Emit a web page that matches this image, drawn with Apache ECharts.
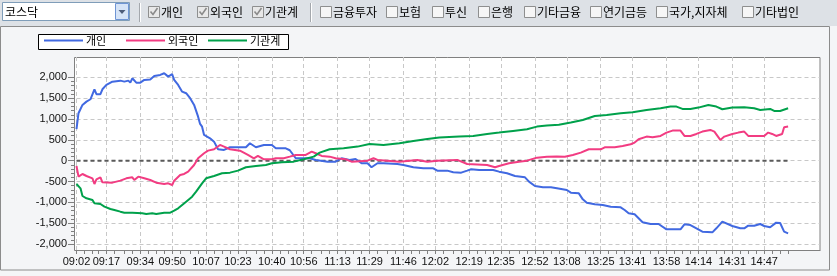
<!DOCTYPE html>
<html><head><meta charset="utf-8">
<script src="https://cdn.jsdelivr.net/npm/echarts@6/dist/echarts.min.js"></script>
<style>html,body{margin:0;padding:0;background:#f4f5f7;}#c{width:837px;height:276px;}</style>
</head><body><div id="c"></div>
<script>
// x positions are minutes after 09:02 (category index)
const tickLabels = ['09:02','09:17','09:34','09:50','10:07','10:23','10:40','10:56','11:13','11:29','11:46','12:02','12:19','12:35','12:52','13:08','13:25','13:41','13:58','14:14','14:31','14:47'];
const seriesNames = ['개인','외국인','기관계'];
const toolbarItems = ['개인','외국인','기관계','금융투자','보험','투신','은행','기타금융','연기금등','국가,지자체','기타법인'];
const toolbarChecked = [true,true,true,false,false,false,false,false,false,false,false];
const marketName = '코스닥';

const individual = [[0,754],[1,1138],[3,1337],[5,1416],[7,1473],[9,1713],[10,1594],[12,1594],[13,1713],[15,1817],[18,1896],[22,1920],[24,1896],[26,1920],[27,1872],[28,1976],[30,1872],[32,1872],[34,1937],[37,1950],[39,2033],[42,2057],[44,2098],[45,2057],[46,2016],[48,2074],[49,1937],[51,1817],[53,1656],[55,1618],[57,1498],[59,1337],[61,1056],[62,881],[63,816],[64,617],[67,537],[69,456],[71,273],[74,257],[77,321],[82,321],[85,321],[87,417],[90,321],[94,377],[98,377],[100,297],[105,297],[107,250],[110,57],[117,57],[120,17],[126,-24],[130,-24],[133,57],[137,17],[140,40],[143,-63],[146,-63],[148,-159],[151,-63],[154,-63],[161,-80],[164,-104],[169,-159],[174,-183],[179,-183],[181,-240],[186,-240],[189,-280],[193,-288],[196,-240],[198,-207],[202,-224],[209,-224],[212,-264],[216,-304],[220,-368],[225,-400],[227,-504],[230,-608],[234,-640],[238,-640],[241,-664],[246,-704],[248,-768],[252,-784],[254,-928],[256,-1008],[260,-1048],[264,-1064],[268,-1104],[273,-1120],[275,-1184],[277,-1264],[280,-1288],[282,-1384],[284,-1480],[288,-1520],[292,-1520],[296,-1648],[303,-1648],[305,-1528],[308,-1545],[311,-1624],[314,-1704],[319,-1720],[321,-1624],[324,-1464],[325,-1480],[329,-1568],[333,-1624],[335,-1624],[337,-1560],[340,-1560],[343,-1520],[345,-1568],[348,-1600],[351,-1488],[353,-1496],[355,-1704],[357,-1744]];
const foreign = [[0,-127],[1,-384],[3,-320],[5,-368],[8,-424],[9,-560],[10,-448],[12,-400],[13,-520],[18,-528],[22,-480],[25,-424],[28,-400],[29,-464],[31,-384],[34,-424],[37,-464],[40,-528],[44,-560],[46,-544],[48,-584],[49,-480],[52,-344],[54,-320],[56,-264],[59,-104],[61,57],[64,177],[66,240],[69,273],[72,377],[74,337],[77,273],[82,240],[86,137],[89,57],[91,113],[94,33],[98,33],[100,57],[104,57],[107,96],[110,137],[115,137],[118,216],[120,177],[123,113],[127,96],[130,57],[135,33],[138,-24],[146,0],[149,57],[151,17],[156,0],[162,-24],[171,17],[176,-24],[181,0],[191,17],[196,-80],[206,-104],[210,-159],[212,-127],[217,-63],[222,-24],[226,0],[231,72],[236,96],[241,97],[245,96],[249,137],[253,192],[257,273],[263,273],[265,321],[270,321],[274,353],[278,393],[280,433],[282,513],[286,577],[289,561],[293,593],[296,673],[299,721],[303,721],[305,593],[308,593],[311,641],[314,697],[318,737],[320,697],[323,497],[325,577],[329,641],[332,673],[335,697],[337,593],[345,593],[347,673],[349,641],[351,593],[354,641],[355,801],[357,817]];
const institution = [[0,-560],[2,-664],[3,-848],[5,-904],[8,-944],[9,-1024],[12,-1040],[14,-1104],[17,-1160],[19,-1184],[22,-1224],[24,-1248],[28,-1248],[33,-1264],[35,-1280],[38,-1264],[40,-1280],[44,-1248],[47,-1248],[49,-1200],[51,-1144],[53,-1064],[55,-984],[58,-864],[60,-744],[63,-544],[65,-424],[69,-368],[73,-304],[77,-288],[81,-240],[85,-159],[90,-127],[95,-104],[98,-63],[103,-40],[109,-24],[114,33],[119,96],[122,192],[127,273],[134,297],[141,337],[147,401],[154,377],[162,417],[169,473],[176,521],[182,553],[192,577],[199,593],[206,641],[212,673],[219,713],[226,753],[231,817],[236,841],[242,860],[248,913],[254,977],[260,1073],[266,1097],[273,1137],[279,1161],[286,1217],[293,1257],[298,1297],[301,1297],[304,1241],[308,1241],[312,1273],[317,1337],[321,1297],[324,1233],[329,1273],[335,1281],[340,1257],[343,1217],[348,1241],[350,1193],[353,1193],[357,1257]];
const baseline = [[0,0],[357,0]];

const startMinute = 9*60+2;
const categoryCount = 374;
const categories = [];
for (let i = 0; i < categoryCount; i++) {
  const m = startMinute + i;
  categories.push(String(Math.floor(m/60)).padStart(2,'0') + ':' + String(m%60).padStart(2,'0'));
}
const labelIdx = tickLabels.map(t => categories.indexOf(t));
const labelSet = new Set(labelIdx);
const tickSet = new Set(labelIdx);
for (let k = 0; k < labelIdx.length - 1; k++) {
  const a = labelIdx[k], b = labelIdx[k+1];
  for (let q = 1; q < 4; q++) tickSet.add(a + Math.round(q*(b-a)/4));
}
const lastData = individual[individual.length-1][0];
for (let t = labelIdx[labelIdx.length-1] + 4; t <= lastData; t += 4) tickSet.add(t);

const LAT = '"Liberation Sans", Arial, sans-serif';
const KR = '"Noto Sans CJK KR", sans-serif';

const graphics = [];
graphics.push({type:'rect', z:-10, shape:{x:0,y:0,width:837,height:26}, style:{fill:'#dde1e6'}});
graphics.push({type:'rect', z:-10, shape:{x:0.5,y:26.5,width:829,height:243.5}, style:{fill:'#f4f5f7', stroke:'#8c8c8c', lineWidth:1}});
graphics.push({type:'rect', z:-9, shape:{x:74.5,y:57.5,width:745.5,height:193}, style:{fill:'#ffffff', stroke:'#808080', lineWidth:1}});
// legend frame
graphics.push({type:'rect', z:-8, shape:{x:38.5,y:34.5,width:250,height:15}, style:{fill:'#ffffff', stroke:'#000000', lineWidth:1}});
// combo box
graphics.push({type:'rect', shape:{x:2.5,y:2.5,width:127,height:18}, style:{fill:'#ffffff', stroke:'#7f9db9', lineWidth:1}});
graphics.push({type:'text', x:5, y:12, style:{text:marketName, font:'12px '+KR, fill:'#000', verticalAlign:'middle'}});
graphics.push({type:'rect', shape:{x:115.5,y:3.5,width:13,height:16}, style:{fill:'#d6e4f7', stroke:'#6f95d4', lineWidth:1}});
graphics.push({type:'polygon', shape:{points:[[118.5,10],[125.5,10],[122,14]]}, style:{fill:'#4d5d7a'}});
// separators
[139, 310].forEach(sx => {
  graphics.push({type:'line', shape:{x1:sx+0.5,y1:3,x2:sx+0.5,y2:22}, style:{stroke:'#a4a8ad', lineWidth:1}});
  graphics.push({type:'line', shape:{x1:sx+1.5,y1:3,x2:sx+1.5,y2:22}, style:{stroke:'#ffffff', lineWidth:1}});
});
const boxX = [148,197,252,320,386,432,478,524,590,656,742];
toolbarItems.forEach((name, i) => {
  const bx = boxX[i];
  graphics.push({type:'rect', shape:{x:bx+0.5,y:6.5,width:11,height:11}, style:{fill: toolbarChecked[i] ? '#e8e8e8' : '#f6f6f6', stroke:'#8e8f8f', lineWidth:1}});
  if (toolbarChecked[i]) {
    graphics.push({type:'polyline', shape:{points:[[bx+2.5,11.5],[bx+5,14.5],[bx+9.5,8]]}, style:{stroke:'#8a8a8a', lineWidth:1.6, fill:null}});
  }
  graphics.push({type:'text', x:bx+13, y:12.5, style:{text:name, font:'12px '+KR, fill:'#000', verticalAlign:'middle'}});
});

const legendLeft = [44, 126, 208];
const legends = seriesNames.map((n, i) => ({
  data: [n], left: legendLeft[i], top: 35, padding: 0,
  icon: 'rect', itemWidth: 39, itemHeight: 2,
  textStyle: {fontFamily: KR, fontSize: 11, color: '#000', padding: [0,0,0,-2]}
}));

const chart = echarts.init(document.getElementById('c'), null, {renderer:'canvas'});
chart.setOption({
  animation: false,
  backgroundColor: '#f4f5f7',
  graphic: {elements: graphics},
  legend: legends,
  grid: [
    {left: 76.5, right: 17, top: 57, bottom: 26},
    {left: 76.5, right: 17, top: 77.3, bottom: 32}
  ],
  xAxis: [
    {type:'category', gridIndex:0, data: categories, boundaryGap:false,
     axisLine:{show:true, lineStyle:{color:'#808080', width:1}},
     axisTick:{show:true, length:4, interval:(i)=>tickSet.has(i), lineStyle:{color:'#808080'}},
     axisLabel:{show:true, interval:(i)=>labelSet.has(i), color:'#111', fontFamily:LAT, fontSize:11, margin:6},
     splitLine:{show:true, interval:(i)=>labelSet.has(i), lineStyle:{color:'#c8c8c8', type:[4,3], width:1}}},
    {type:'category', gridIndex:1, data: categories, boundaryGap:false, show:false}
  ],
  yAxis: [
    {type:'value', gridIndex:0, min:0, max:1, show:false},
    {type:'value', gridIndex:1, min:-2000, max:2000, interval:500, offset:2.5,
     axisLine:{show:true, lineStyle:{color:'#808080'}},
     axisTick:{show:true, length:6, lineStyle:{color:'#808080'}},
     minorTick:{show:true, splitNumber:5, length:3, lineStyle:{color:'#808080'}},
     axisLabel:{color:'#111', fontFamily:LAT, fontSize:11, margin:7, formatter:(v)=>v.toLocaleString('en-US')},
     splitLine:{show:true, lineStyle:{color:'#c8c8c8', type:[4,3], width:1}}}
  ],
  series: [
    {name:'zero', type:'line', xAxisIndex:1, yAxisIndex:1, data: baseline, showSymbol:false, silent:true, clip:false,
     lineStyle:{color:'#5a5a5a', width:2, type:[4,3]}, z:1},
    {name:seriesNames[0], type:'line', xAxisIndex:1, yAxisIndex:1, data: individual, showSymbol:false, clip:false, color:'#4169e1', lineStyle:{width:2}, z:3},
    {name:seriesNames[1], type:'line', xAxisIndex:1, yAxisIndex:1, data: foreign, showSymbol:false, clip:false, color:'#f23c82', lineStyle:{width:2}, z:3},
    {name:seriesNames[2], type:'line', xAxisIndex:1, yAxisIndex:1, data: institution, showSymbol:false, clip:false, color:'#00a14b', lineStyle:{width:2}, z:3}
  ]
});
</script></body></html>
